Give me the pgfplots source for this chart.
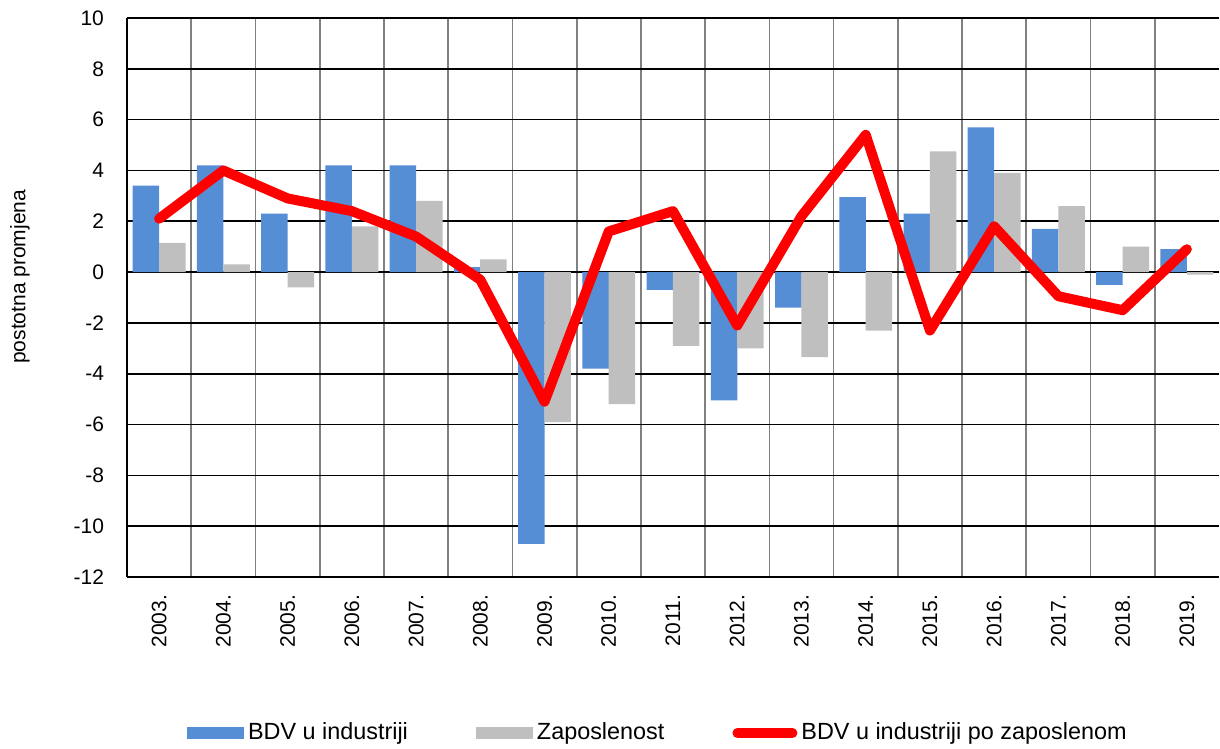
\documentclass[border=0pt]{standalone}
\usepackage{fontspec}
\setmainfont{Liberation Sans}
\usepackage{pgfplots}
\usepackage{pgfplotstable}
\pgfplotsset{compat=1.18}
\definecolor{bdvblue}{RGB}{85,142,213}
\definecolor{zgray}{RGB}{191,191,191}
\definecolor{gridgray}{RGB}{128,128,128}

\pgfplotstableread{
x bdv zap line
0 3.4 1.15 2.1
1 4.2 0.3 4.0
2 2.3 -0.6 2.9
3 4.2 1.8 2.4
4 4.2 2.8 1.4
5 0.2 0.5 -0.3
6 -10.7 -5.9 -5.1
7 -3.8 -5.2 1.6
8 -0.7 -2.9 2.4
9 -5.05 -3.0 -2.1
10 -1.4 -3.35 2.2
11 2.95 -2.3 5.4
12 2.3 4.75 -2.3
13 5.7 3.9 1.8
14 1.7 2.6 -0.95
15 -0.5 1.0 -1.5
16 0.9 -0.1 0.9
}\data

\begin{document}
\begin{tikzpicture}
\useasboundingbox (-63.5pt,-86pt) rectangle (546.5pt,288.5pt);
\begin{axis}[
  at={(0,0)}, anchor=south west,
  scale only axis, width=546pt, height=279.5pt,
  xmin=-0.5, xmax=16.5, ymin=-12, ymax=10,
  ytick={-12,-10,...,10},
  xtick={0,...,16},
  xticklabels={2003.,2004.,2005.,2006.,2007.,2008.,2009.,2010.,2011.,2012.,2013.,2014.,2015.,2016.,2017.,2018.,2019.},
  minor xtick={-0.5,0.5,...,15.5},
  xminorgrids, ymajorgrids,
  major grid style={black, line width=0.85pt},
  minor grid style={gridgray, line width=0.85pt},
  axis x line*=bottom, axis y line*=left,
  axis line style={-, black, line width=0.9pt},
  major tick length=0pt, minor tick length=0pt,
  /pgf/number format/assume math mode=true,
  tick label style={font=\fontsize{10.5}{12}\selectfont},
  yticklabel style={xshift=-8pt},
  xticklabel style={yshift=-5.5pt, rotate=90, anchor=east},
  every axis y label/.style={at={(axis description cs:0,0.537)}, xshift=-53.5pt, rotate=90, anchor=center, font=\fontsize{10.5}{12}\selectfont},
  ylabel={postotna promjena},
  legend columns=3,
  legend style={draw=none, fill=none, at={(0.487,-0.279)}, anchor=center,
    font=\fontsize{11.7}{13}\selectfont,
    /tikz/every even column/.append style={column sep=32pt}},
]
\addplot[ybar, bar width=13.25pt, bar shift=-6.6pt, fill=bdvblue, draw=none,
  legend image code/.code={\fill[bdvblue] (0pt,-3pt) rectangle (28.5pt,3pt);}]
  table[x=x,y=bdv]{\data};
\addlegendentry{BDV u industriji}
\addplot[ybar, bar width=13.25pt, bar shift=6.6pt, fill=zgray, draw=none,
  legend image code/.code={\fill[zgray] (0pt,-3pt) rectangle (28.5pt,3pt);}]
  table[x=x,y=zap]{\data};
\addlegendentry{Zaposlenost}
\addplot[red, line width=5pt, line join=round, line cap=round, mark=none,
  legend image code/.code={\draw[red, line width=5pt, line cap=round] (2.5pt,0pt) -- (30pt,0pt);}]
  table[x=x,y=line]{\data};
\addlegendentry{BDV u industriji po zaposlenom}
\end{axis}
\end{tikzpicture}
\end{document}
